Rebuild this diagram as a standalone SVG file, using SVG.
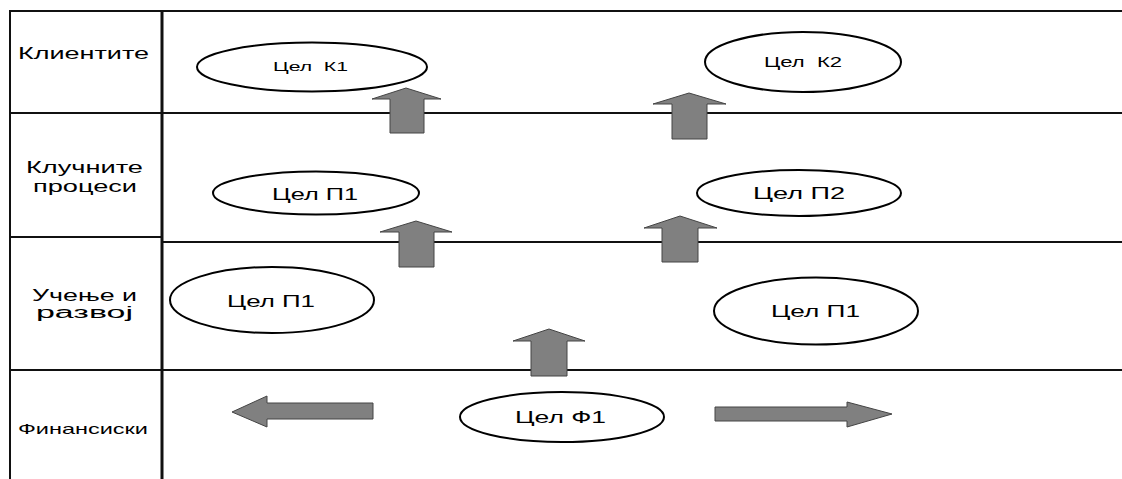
<svg xmlns="http://www.w3.org/2000/svg" width="1122" height="479" viewBox="0 0 1122 479">
<style>
.ln{stroke:#111;stroke-width:2;fill:none}
.vl{stroke:#111;stroke-width:3;fill:none}
.el{fill:#fff;stroke:#000;stroke-width:2}
.ar{fill:#808080;stroke:#444;stroke-width:1}
.t{font-family:"Liberation Sans",Arial,sans-serif;fill:#000}
.s13{font-size:13px}
.s14{font-size:14px}
.s15{font-size:15px}
.s16{font-size:16px}
.s17{font-size:17px}
</style>
<rect width="1122" height="479" fill="#fff"/>
<g id="grid">
<line class="ln" x1="10" y1="11" x2="1122" y2="11"/>
<line class="ln" x1="10" y1="10" x2="10" y2="479"/>
<line class="ln" x1="10" y1="113" x2="1122" y2="113"/>
<line class="ln" x1="10" y1="237" x2="162" y2="237"/>
<line class="ln" x1="162" y1="242" x2="1122" y2="242"/>
<line class="ln" x1="10" y1="370" x2="1122" y2="370"/>
<line class="vl" x1="162" y1="10" x2="162" y2="479"/>
</g>
<g id="labels">
<text class="t s16" x="18" y="59" textLength="131" lengthAdjust="spacingAndGlyphs">Клиентите</text>
<text class="t s16" x="26" y="173" textLength="117" lengthAdjust="spacingAndGlyphs">Клучните</text>
<text class="t s16" x="33" y="192" textLength="104" lengthAdjust="spacingAndGlyphs">процеси</text>
<text class="t s16" x="32" y="301" textLength="105" lengthAdjust="spacingAndGlyphs">Учење и</text>
<text class="t s16" x="36" y="318" textLength="97" lengthAdjust="spacingAndGlyphs">развој</text>
<text class="t s15" x="18" y="434" textLength="130" lengthAdjust="spacingAndGlyphs">Финансиски</text>
</g>
<g id="connectors">
<polygon class="ar" points="390,133 390,99 372,99 406,88 441,99 424,99 424,133"/>
<polygon class="ar" points="672,139 672,104 653,104 689,93 726,104 707,104 707,139"/>
<polygon class="ar" points="399,267 399,232 380,232 416,221 452,232 434,232 434,267"/>
<polygon class="ar" points="662,262 662,228 644,228 680,216 717,228 698,228 698,262"/>
<polygon class="ar" points="531,376 531,341 513,341 549,329 585,341 567,341 567,376"/>
<polygon class="ar" points="373,403 267,403 267,396 232,412 267,427 267,419 373,419"/>
<polygon class="ar" points="715,407 847,407 847,402 892,414 847,427 847,421 715,421"/>
</g>
<g id="k1"><ellipse class="el" cx="312" cy="67" rx="115" ry="24.5"/><text class="t s13" x="273" y="71" textLength="75" lengthAdjust="spacingAndGlyphs" xml:space="preserve">Цел  К1</text></g>
<g id="k2"><ellipse class="el" cx="803" cy="62" rx="98" ry="30"/><text class="t s14" x="764" y="67" textLength="78" lengthAdjust="spacingAndGlyphs" xml:space="preserve">Цел  К2</text></g>
<g id="p1a"><ellipse class="el" cx="316" cy="193" rx="103" ry="21.5"/><text class="t s17" x="272" y="200" textLength="86" lengthAdjust="spacingAndGlyphs">Цел П1</text></g>
<g id="p2"><ellipse class="el" cx="799" cy="193" rx="102" ry="23"/><text class="t s17" x="753" y="199" textLength="92" lengthAdjust="spacingAndGlyphs">Цел П2</text></g>
<g id="p1b"><ellipse class="el" cx="272" cy="300" rx="102" ry="33"/><text class="t s17" x="227" y="307" textLength="88" lengthAdjust="spacingAndGlyphs">Цел П1</text></g>
<g id="p1c"><ellipse class="el" cx="816" cy="311" rx="102" ry="33.5"/><text class="t s17" x="771" y="317" textLength="89" lengthAdjust="spacingAndGlyphs">Цел П1</text></g>
<g id="f1"><ellipse class="el" cx="562" cy="417" rx="102" ry="25"/><text class="t s17" x="515" y="423" textLength="91" lengthAdjust="spacingAndGlyphs">Цел Ф1</text></g>
</svg>
